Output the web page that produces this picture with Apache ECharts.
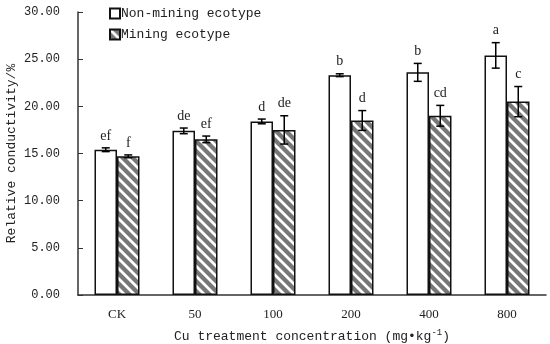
<!DOCTYPE html>
<html><head><meta charset="utf-8">
<script src="https://cdn.jsdelivr.net/npm/echarts@6/dist/echarts.min.js"></script>
<style>html,body{margin:0;padding:0;background:#fff}#c{width:550px;height:344px}</style>
</head><body><div id="c"></div>
<script>
const categories = ['CK', '50', '100', '200', '400', '800'];
const nonMining = [15.4, 17.4, 18.4, 23.3, 23.6, 25.4];
const nonMiningErr = [0.2, 0.3, 0.25, 0.15, 0.95, 1.35];
const nonMiningLetters = ['ef', 'de', 'd', 'b', 'b', 'a'];
const mining = [14.7, 16.5, 17.5, 18.5, 19.0, 20.5];
const miningErr = [0.15, 0.35, 1.5, 1.05, 1.1, 1.6];
const miningLetters = ['f', 'ef', 'de', 'd', 'cd', 'c'];
const yTicks = [0, 5, 10, 15, 20, 25, 30];

const pc = document.createElement('canvas');
pc.width = 10; pc.height = 10;
const g = pc.getContext('2d');
g.fillStyle = '#777777'; g.fillRect(0, 0, 10, 10);
g.strokeStyle = '#ffffff'; g.lineWidth = 2.8;
g.beginPath();
g.moveTo(-5, -5); g.lineTo(15, 15);
g.moveTo(-5, 5); g.lineTo(5, 15);
g.moveTo(5, -5); g.lineTo(15, 5);
g.stroke();
const hatch = { image: pc, repeat: 'repeat' };

const BW = 22.5;
function errSeries(vals, errs, letters, side) {
  return {
    type: 'custom',
    silent: true,
    z: 10,
    data: vals.map((v, i) => [i, v, errs[i]]),
    renderItem: function (params, api) {
      const i = api.value(0), v = api.value(1), e = api.value(2);
      const c = api.coord([i, v]);
      const x = c[0] + side * BW / 2;
      const top = api.coord([i, v + e])[1];
      const bot = api.coord([i, v - e])[1];
      const st = { stroke: '#000', lineWidth: 1.5 };
      return {
        type: 'group',
        children: [
          { type: 'line', shape: { x1: x, y1: top, x2: x, y2: bot }, style: st },
          { type: 'line', shape: { x1: x - 4, y1: top, x2: x + 4, y2: top }, style: st },
          { type: 'line', shape: { x1: x - 4, y1: bot, x2: x + 4, y2: bot }, style: st },
          { type: 'text', style: { x: x, y: top - 5, text: letters[params.dataIndex], textAlign: 'center', textVerticalAlign: 'bottom', font: '14px "Liberation Serif"', fill: '#222' } }
        ]
      };
    }
  };
}

const chart = echarts.init(document.getElementById('c'), null, { renderer: 'canvas' });
chart.setOption({
  animation: false,
  backgroundColor: '#fff',
  grid: { left: 78, right: 4, top: 12, bottom: 49, containLabel: false, outerBoundsMode: 'none' },
  legend: {
    orient: 'vertical', left: 104, top: 2, itemGap: 8,
    itemWidth: 10, itemHeight: 10, icon: 'rect',
    textStyle: { fontFamily: 'Liberation Mono', fontSize: 13, color: '#222', padding: [0, 0, 0, -4] },
    data: ['Non-mining ecotype', 'Mining ecotype']
  },
  xAxis: {
    type: 'category', data: categories,
    axisLine: { lineStyle: { color: '#333', width: 1.5 } },
    axisTick: { inside: true, length: 5, lineStyle: { color: '#333' } },
    axisLabel: { fontFamily: 'Liberation Serif', fontSize: 13, color: '#222', margin: 13 },
    name: 'Cu treatment concentration (mg•kg{s|-1})',
    nameLocation: 'middle', nameGap: 33, nameMoveOverlap: false,
    nameTextStyle: { fontFamily: 'Liberation Mono', fontSize: 13, color: '#222',
      rich: { s: { fontFamily: 'Liberation Mono', fontSize: 9, verticalAlign: 'top', padding: [0, 0, 8, 0] } } }
  },
  yAxis: {
    type: 'value', min: 0, max: 30, interval: 5,
    axisLine: { show: true, lineStyle: { color: '#333', width: 1.5 } },
    axisTick: { show: true, inside: true, length: 5, lineStyle: { color: '#333' } },
    splitLine: { show: false },
    axisLabel: { fontFamily: 'Liberation Mono', fontSize: 12, color: '#222', margin: 18,
      formatter: v => yTicks.includes(v) ? v.toFixed(2) : '' },
    name: 'Relative conductivity/%', nameLocation: 'middle', nameGap: 60, nameMoveOverlap: false,
    nameTextStyle: { fontFamily: 'Liberation Mono', fontSize: 13, color: '#222' }
  },
  series: [
    { name: 'Non-mining ecotype', type: 'bar', data: nonMining, barWidth: BW, barGap: '0%',
      itemStyle: { color: '#fff', borderColor: '#111', borderWidth: 1.5 } },
    { name: 'Mining ecotype', type: 'bar', data: mining, barWidth: BW, barGap: '0%',
      itemStyle: { color: hatch, borderColor: '#111', borderWidth: 1.5 } },
    errSeries(nonMining, nonMiningErr, nonMiningLetters, -1),
    errSeries(mining, miningErr, miningLetters, 1)
  ]
});
</script></body></html>
